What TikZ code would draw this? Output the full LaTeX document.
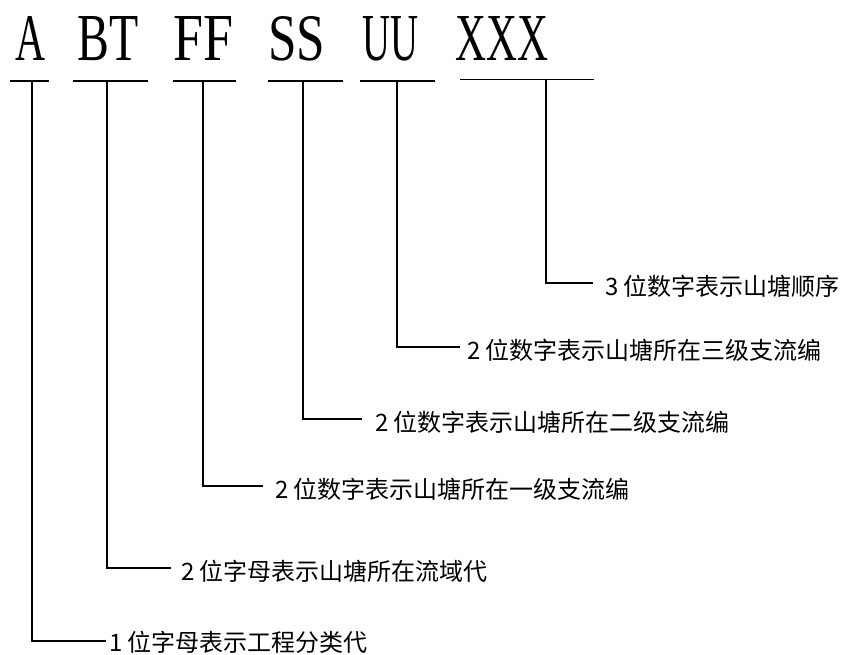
\documentclass[tikz,border=0pt]{standalone}
\usepackage{fontspec}
\usepackage{graphicx}
\setmainfont{Liberation Serif}
\newfontfamily\cjk{Noto Sans CJK SC}
\newcommand{\segtext}[2]{\resizebox{#1}{44pt}{\fontsize{60}{60}\selectfont #2}}
\tikzset{
	codeline/.style={line width=1.4pt},
	desc/.style={anchor=west, inner sep=0pt, yshift=-3pt, font=\cjk\fontsize{24}{24}\selectfont}
}
\begin{document}
\begin{tikzpicture}[x=1pt, y=-1pt]
		\useasboundingbox (0,0) rectangle (841,655);
		% code parts
		\node[anchor=base west, inner sep=0pt] (cA) at (15,61) {\segtext{30pt}{A}};
		\node[anchor=base west, inner sep=0pt] (cB) at (77,61) {\segtext{61pt}{BT}};
		\node[anchor=base west, inner sep=0pt] (cF) at (173,61) {\segtext{60pt}{FF}};
		\node[anchor=base west, inner sep=0pt] (cS) at (268,61) {\segtext{57pt}{SS}};
		\node[anchor=base west, inner sep=0pt] (cU) at (362,61) {\segtext{56pt}{UU}};
		\node[anchor=base west, inner sep=0pt] (cX) at (455,61) {\segtext{93pt}{XXX}};
		% underlines
		\draw[codeline] (10,81) -- (49,81);
		\draw[codeline] (73,81) -- (148,81);
		\draw[codeline] (173,81) -- (236,81);
		\draw[codeline] (268,81) -- (343,81);
		\draw[codeline] (360,81) -- (435,81);
		\draw[line width=1pt] (460,80) -- (594,80);
		\coordinate (tA) at (32,81);
		\coordinate (tB) at (107,81);
		\coordinate (tF) at (203,81);
		\coordinate (tS) at (303,81);
		\coordinate (tU) at (397,81);
		\coordinate (tX) at (546,80);
		% ends of the leaders
		\coordinate (eA) at (106,641);
		\coordinate (eB) at (171,568);
		\coordinate (eF) at (263,486);
		\coordinate (eS) at (362,419);
		\coordinate (eU) at (460,347);
		\coordinate (eX) at (593,283);
		\draw[codeline] (tA) |- (eA);
		\draw[codeline] (tB) |- (eB);
		\draw[codeline] (tF) |- (eF);
		\draw[codeline] (tS) |- (eS);
		\draw[codeline] (tU) |- (eU);
		\draw[codeline] (tX) |- (eX);
		% descriptions
		\node[desc, yshift=2pt] (dA) at (109,641) {1 位字母表示工程分类代};
		\node[desc] (dB) at (181,568) {2 位字母表示山塘所在流域代};
		\node[desc] (dF) at (275,486) {2 位数字表示山塘所在一级支流编};
		\node[desc] (dS) at (375,419) {2 位数字表示山塘所在二级支流编};
		\node[desc] (dU) at (467,347) {2 位数字表示山塘所在三级支流编};
		\node[desc] (dX) at (605,283) {3 位数字表示山塘顺序};
	\end{tikzpicture}
\end{document}
